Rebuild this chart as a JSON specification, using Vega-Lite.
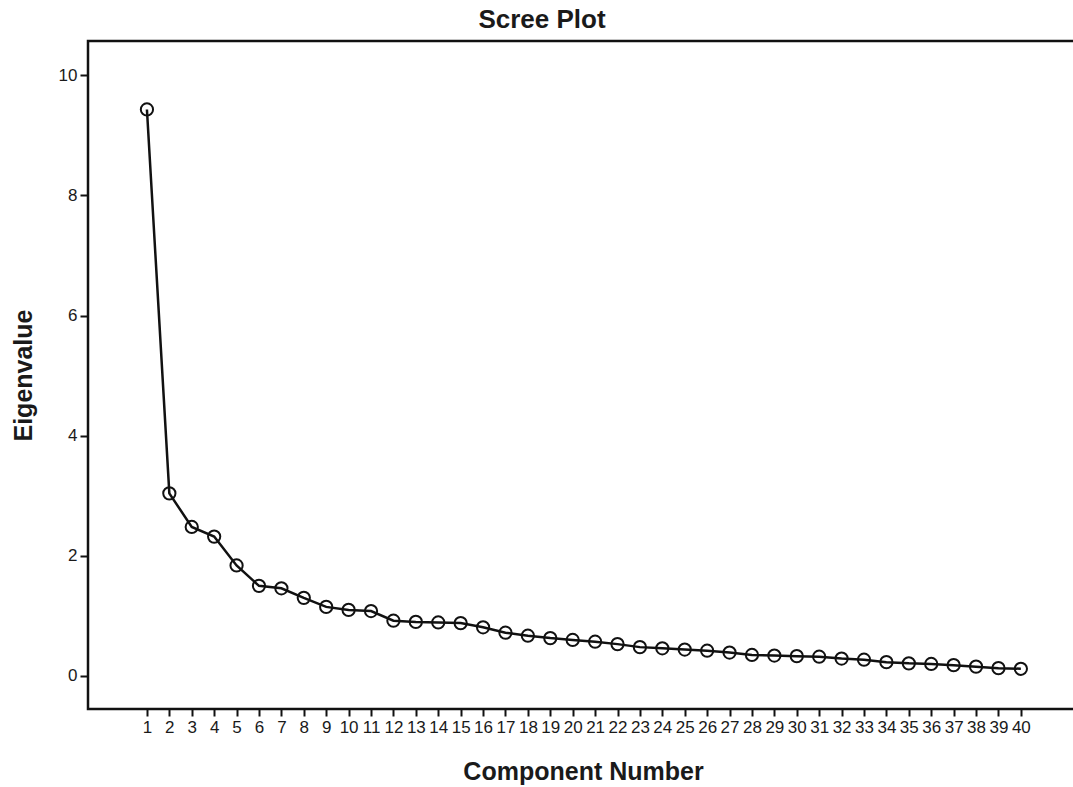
{
  "$schema": "https://vega.github.io/schema/vega-lite/v6.json",
  "autosize": {"type": "none"},
  "padding": {"left": 88, "top": 41, "right": 0, "bottom": 78},
  "width": 990,
  "height": 668,
  "background": "white",
  "title": {
    "text": "Scree Plot",
    "font": "Liberation Sans",
    "fontSize": 26,
    "fontWeight": "bold",
    "color": "#1a1a1a",
    "anchor": "middle",
    "dx": -41,
    "offset": 8
  },
  "config": {
    "view": {"stroke": "#111", "strokeWidth": 2.5},
    "axis": {
      "labelFont": "Liberation Sans",
      "titleFont": "Liberation Sans",
      "labelColor": "#1a1a1a",
      "titleColor": "#1a1a1a",
      "tickColor": "#111",
      "domain": false,
      "grid": false
    }
  },
  "data": {
    "values": [
      {"component": 1, "eigenvalue": 9.43},
      {"component": 2, "eigenvalue": 3.04},
      {"component": 3, "eigenvalue": 2.48},
      {"component": 4, "eigenvalue": 2.32},
      {"component": 5, "eigenvalue": 1.84},
      {"component": 6, "eigenvalue": 1.50},
      {"component": 7, "eigenvalue": 1.46},
      {"component": 8, "eigenvalue": 1.30},
      {"component": 9, "eigenvalue": 1.15},
      {"component": 10, "eigenvalue": 1.10},
      {"component": 11, "eigenvalue": 1.08},
      {"component": 12, "eigenvalue": 0.92},
      {"component": 13, "eigenvalue": 0.90},
      {"component": 14, "eigenvalue": 0.89},
      {"component": 15, "eigenvalue": 0.88},
      {"component": 16, "eigenvalue": 0.81},
      {"component": 17, "eigenvalue": 0.72},
      {"component": 18, "eigenvalue": 0.67},
      {"component": 19, "eigenvalue": 0.63},
      {"component": 20, "eigenvalue": 0.60},
      {"component": 21, "eigenvalue": 0.57},
      {"component": 22, "eigenvalue": 0.53},
      {"component": 23, "eigenvalue": 0.48},
      {"component": 24, "eigenvalue": 0.46},
      {"component": 25, "eigenvalue": 0.44},
      {"component": 26, "eigenvalue": 0.42},
      {"component": 27, "eigenvalue": 0.39},
      {"component": 28, "eigenvalue": 0.35},
      {"component": 29, "eigenvalue": 0.34},
      {"component": 30, "eigenvalue": 0.33},
      {"component": 31, "eigenvalue": 0.32},
      {"component": 32, "eigenvalue": 0.29},
      {"component": 33, "eigenvalue": 0.27},
      {"component": 34, "eigenvalue": 0.23},
      {"component": 35, "eigenvalue": 0.21},
      {"component": 36, "eigenvalue": 0.20},
      {"component": 37, "eigenvalue": 0.18},
      {"component": 38, "eigenvalue": 0.155},
      {"component": 39, "eigenvalue": 0.13},
      {"component": 40, "eigenvalue": 0.12}
    ]
  },
  "encoding": {
    "x": {
      "field": "component",
      "type": "quantitative",
      "scale": {"domain": [-1.63, 42.55], "nice": false, "zero": false},
      "axis": {
        "title": "Component Number",
        "titleFontSize": 25,
        "titleFontWeight": "bold",
        "titlePadding": 24,
        "values": [1,2,3,4,5,6,7,8,9,10,11,12,13,14,15,16,17,18,19,20,21,22,23,24,25,26,27,28,29,30,31,32,33,34,35,36,37,38,39,40],
        "format": "d",
        "labelFontSize": 17,
        "labelOverlap": false,
        "labelFlush": false,
        "tickSize": 7,
        "tickWidth": 2,
        "labelPadding": 3
      }
    },
    "y": {
      "field": "eigenvalue",
      "type": "quantitative",
      "scale": {"domain": [-0.55, 10.57], "nice": false, "zero": false},
      "axis": {
        "title": "Eigenvalue",
        "titleFontSize": 25,
        "titleFontWeight": "bold",
        "titlePadding": 22,
        "values": [0, 2, 4, 6, 8, 10],
        "labelFontSize": 17,
        "tickSize": 8,
        "tickWidth": 2,
        "labelPadding": 3,
        "labelFlush": false
      }
    }
  },
  "layer": [
    {
      "mark": {"type": "line", "color": "#111", "strokeWidth": 2.5}
    },
    {
      "mark": {"type": "point", "shape": "circle", "filled": false, "stroke": "#111", "strokeWidth": 2, "size": 150, "opacity": 1}
    }
  ]
}
